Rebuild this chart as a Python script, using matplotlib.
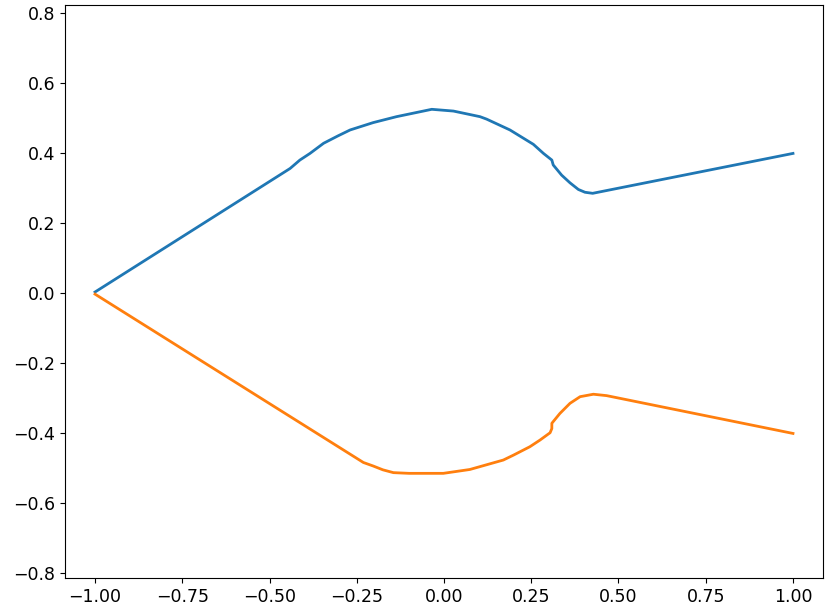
import matplotlib.pyplot as plt

# upper curve (blue)
upper_x = [-1.0, -0.441, -0.413, -0.384, -0.345, -0.304, -0.269, -0.203, -0.136,
           -0.035, 0.027, 0.103, 0.122, 0.189, 0.256, 0.285, 0.309, 0.313,
           0.337, 0.361, 0.385, 0.404, 0.426, 1.0]
upper_y = [0.003, 0.356, 0.38, 0.399, 0.428, 0.449, 0.466, 0.487, 0.504,
           0.525, 0.52, 0.504, 0.497, 0.466, 0.425, 0.399, 0.38, 0.366,
           0.337, 0.315, 0.296, 0.288, 0.285, 0.399]

# lower curve (orange)
lower_x = [-1.0, -0.231, -0.203, -0.175, -0.145, -0.1, -0.059, -0.002, 0.074,
           0.17, 0.199, 0.246, 0.275, 0.304, 0.309, 0.309, 0.332, 0.361,
           0.39, 0.428, 0.466, 1.0]
lower_y = [-0.003, -0.484, -0.494, -0.505, -0.513, -0.515, -0.515, -0.515,
           -0.504, -0.477, -0.463, -0.439, -0.42, -0.399, -0.387, -0.372,
           -0.344, -0.315, -0.296, -0.289, -0.293, -0.401]

plt.rcParams['font.size'] = 12.5

fig, ax = plt.subplots(figsize=(8.31, 6.15), dpi=100)
fig.subplots_adjust(left=65 / 831, right=823 / 831, top=1 - 5 / 615, bottom=1 - 578 / 615)

ax.plot(upper_x, upper_y, color='#1f77b4', linewidth=2)
ax.plot(lower_x, lower_y, color='#ff7f0e', linewidth=2)

ax.set_xlim(-1.086, 1.086)
ax.set_ylim(-0.814, 0.823)
ax.set_xticks([-1.0, -0.75, -0.5, -0.25, 0.0, 0.25, 0.5, 0.75, 1.0])
ax.set_yticks([-0.8, -0.6, -0.4, -0.2, 0.0, 0.2, 0.4, 0.6, 0.8])
ax.set_xticklabels([f'{v:.2f}'.replace('-', '\u2212') for v in ax.get_xticks()])
ax.set_yticklabels([f'{v:.1f}'.replace('-', '\u2212') for v in ax.get_yticks()])

fig.savefig('out.png')
